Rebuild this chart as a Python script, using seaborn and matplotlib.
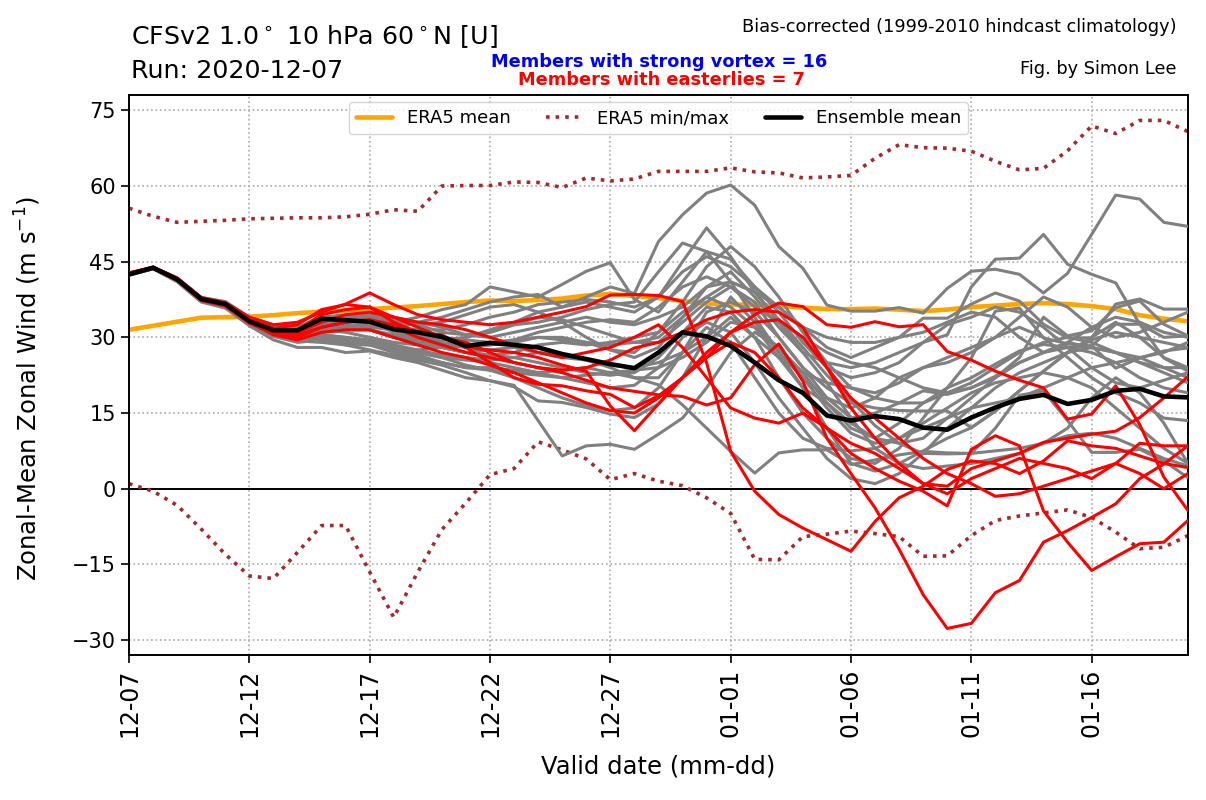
import numpy as np
import pandas as pd
import matplotlib
matplotlib.use("Agg")
import matplotlib.pyplot as plt
import matplotlib.dates as mdates
import seaborn as sns

# ---------------- data ----------------
start_date = "2020-12-07"
n_days = 45

era5_mean = [31.5, 32.3, 33.1, 33.9, 34.0, 34.1, 34.4, 34.8, 35.1, 35.3, 35.6, 35.9, 36.2, 36.6, 37.0,
             37.3, 37.2, 37.4, 37.7, 38.3, 38.6, 38.2, 37.8, 37.2, 36.7, 36.5, 36.5, 36.2, 35.9, 35.6,
             35.6, 35.7, 35.5, 35.2, 35.5, 36.0, 36.3, 36.6, 36.8, 36.6, 36.2, 35.6, 34.4, 33.7, 33.2]

era5_max = [55.6, 54.0, 52.8, 53.0, 53.2, 53.5, 53.6, 53.7, 53.7, 53.9, 54.4, 55.3, 55.0, 60.0, 60.1,
            60.1, 60.8, 60.7, 59.7, 61.6, 61.0, 61.4, 62.9, 62.9, 62.9, 63.6, 62.8, 62.6, 61.6, 61.8,
            62.1, 65.5, 68.2, 67.6, 67.5, 66.9, 64.9, 63.2, 63.5, 67.0, 71.9, 70.4, 73.0, 73.0, 70.8]

era5_min = [1.0, -0.5, -3.3, -8.0, -13.0, -17.3, -17.8, -12.6, -7.3, -7.3, -16.5, -25.5, -16.5, -8.1, -2.8,
            2.8, 4.0, 9.3, 7.7, 5.9, 1.8, 3.0, 1.5, 0.6, -1.8, -4.9, -14.0, -14.1, -9.5, -9.0,
            -8.4, -8.9, -9.5, -13.4, -13.3, -9.3, -6.3, -5.4, -4.8, -4.2, -5.7, -8.6, -11.9, -11.6, -9.3]

ens_mean = [42.5, 43.8, 41.5, 37.6, 36.6, 33.2, 31.4, 31.4, 33.7, 33.4, 33.1, 31.6, 31.0, 30.1, 28.3,
            28.9, 28.5, 28.0, 26.7, 25.7, 24.7, 23.9, 27.0, 31.0, 30.2, 28.3, 25.0, 21.5, 19.0, 14.5,
            13.5, 14.4, 13.8, 12.1, 11.7, 14.1, 16.1, 17.8, 18.6, 16.8, 17.6, 19.4, 19.8, 18.3, 18.1]

grey_members = [
    [42.3, 43.6, 41.2, 37.2, 36.0, 32.6, 30.6, 29.8, 31.0, 31.5, 32.0, 31.5, 33.0, 34.0, 35.5, 37.0, 38.0, 38.5, 36.0, 38.0, 40.0, 38.7,
     49.0, 54.3, 58.6, 60.2, 56.2, 48.0, 43.7, 36.4, 35.2, 35.2, 35.9, 34.8, 39.7, 43.1, 43.5, 42.5, 38.8, 42.7, 50.4, 58.2, 57.4, 52.8, 52.0],
    [42.6, 43.9, 41.6, 37.8, 36.9, 33.5, 31.2, 30.4, 32.5, 33.5, 33.0, 31.0, 30.0, 29.5, 30.0, 31.5, 33.0, 35.0, 36.0, 37.0, 36.0, 35.0,
     38.0, 45.0, 51.7, 46.0, 39.0, 33.5, 28.0, 22.5, 17.5, 12.5, 9.0, 7.0, 6.9, 7.0, 12.0, 18.5, 19.4, 13.5, 7.2, 7.2, 7.8, 5.5, 2.2],
    [42.4, 43.7, 41.4, 37.4, 36.2, 32.8, 30.2, 29.0, 29.5, 29.0, 28.5, 28.0, 27.5, 28.0, 30.0, 31.0, 32.5, 33.0, 34.0, 35.5, 36.5, 37.0,
     43.0, 48.7, 47.0, 41.0, 34.0, 27.0, 20.0, 12.0, 5.0, 3.5, 5.0, 7.5, 10.0, 12.1, 15.4, 19.4, 23.3, 27.0, 29.5, 31.0, 30.0, 29.0, 28.0],
    [42.7, 43.9, 41.7, 37.9, 37.0, 33.8, 31.8, 30.8, 32.0, 33.0, 34.0, 33.0, 34.0, 35.5, 36.5, 40.0, 39.0, 38.0, 40.5, 43.1, 44.8, 37.5,
     35.0, 41.0, 47.0, 45.5, 40.0, 35.0, 29.0, 24.0, 22.0, 23.0, 25.0, 29.0, 32.5, 34.0, 36.0, 35.0, 32.0, 28.0, 24.0, 21.0, 20.0, 21.5, 23.0],
    [42.5, 43.8, 41.5, 37.6, 36.5, 33.2, 31.6, 31.2, 33.0, 33.8, 34.2, 33.5, 32.5, 31.0, 30.5, 30.0, 31.0, 32.0, 33.0, 34.0, 33.0, 32.5,
     34.0, 36.0, 40.0, 43.0, 38.0, 32.0, 27.0, 25.0, 24.0, 25.0, 27.0, 29.0, 30.5, 40.0, 45.5, 45.7, 50.4, 44.5, 42.5, 40.8, 32.6, 25.9, 23.3],
    [42.4, 43.7, 41.4, 37.5, 36.4, 33.0, 31.0, 30.5, 32.0, 32.5, 32.5, 31.5, 30.5, 29.0, 28.5, 28.5, 29.0, 30.0, 29.5, 29.0, 28.5, 29.0,
     30.0, 34.0, 40.0, 41.0, 39.0, 36.0, 32.0, 28.0, 26.0, 28.0, 30.0, 33.8, 33.8, 36.6, 38.8, 37.2, 32.6, 29.9, 29.9, 36.6, 37.6, 35.6, 35.6],
    [42.5, 43.8, 41.3, 37.3, 36.2, 32.6, 30.4, 29.5, 30.5, 30.0, 29.5, 28.5, 27.5, 26.5, 26.0, 25.5, 26.0, 27.0, 26.5, 25.5, 24.5, 24.0,
     25.0, 27.0, 30.0, 34.0, 30.0, 22.0, 15.0, 10.0, 6.0, 5.0, 8.0, 14.0, 20.0, 25.9, 35.2, 35.8, 29.9, 28.7, 28.3, 23.9, 25.9, 27.3, 27.9],
    [42.6, 43.8, 41.6, 37.7, 36.8, 33.4, 31.6, 30.6, 31.5, 31.0, 30.0, 29.0, 28.5, 28.0, 27.0, 26.5, 27.0, 28.5, 29.0, 28.5, 29.0, 30.0,
     31.0, 35.0, 38.0, 36.0, 32.0, 26.0, 20.0, 17.0, 13.0, 10.0, 9.0, 10.0, 14.0, 18.0, 22.0, 26.0, 34.0, 30.3, 31.3, 35.9, 37.2, 32.6, 30.3],
    [42.4, 43.6, 41.3, 37.4, 36.5, 33.2, 31.2, 30.0, 30.0, 29.5, 29.0, 28.0, 27.0, 26.0, 24.5, 23.5, 23.0, 22.5, 22.0, 22.5, 23.0, 23.5,
     24.0, 26.0, 29.0, 33.0, 32.0, 28.0, 23.0, 17.0, 12.0, 10.0, 13.0, 17.0, 20.0, 22.0, 24.7, 27.3, 28.6, 28.0, 28.3, 32.6, 32.6, 30.0, 30.3],
    [42.6, 43.9, 41.5, 37.5, 36.4, 33.0, 31.5, 31.0, 32.0, 32.5, 31.5, 30.0, 29.0, 28.0, 27.0, 27.5, 28.0, 27.0, 26.0, 25.5, 24.0, 22.0,
     22.0, 27.0, 35.0, 37.0, 35.0, 30.0, 24.0, 18.0, 14.0, 15.0, 17.0, 19.4, 18.7, 20.0, 22.3, 25.0, 27.0, 29.0, 28.0, 27.0, 26.0, 24.0, 22.0],
    [42.5, 43.8, 41.6, 37.8, 36.9, 33.6, 31.9, 31.5, 33.0, 34.0, 34.5, 34.0, 33.0, 32.0, 30.5, 31.0, 32.5, 34.0, 33.5, 32.0, 30.5, 29.0,
     29.0, 33.0, 37.0, 40.0, 37.0, 30.0, 24.0, 20.0, 17.0, 16.0, 15.5, 15.4, 15.4, 12.1, 15.4, 19.4, 23.3, 27.0, 30.0, 33.0, 30.0, 26.0, 24.0],
    [42.3, 43.6, 41.0, 37.0, 35.8, 32.3, 29.5, 28.0, 28.0, 27.0, 27.3, 26.0, 25.0, 23.5, 22.0, 21.4, 20.5, 13.5, 6.5, 8.5, 8.8, 7.8,
     10.8, 14.0, 20.0, 27.0, 31.0, 28.0, 22.0, 16.0, 11.0, 9.0, 10.0, 12.0, 14.0, 16.0, 17.0, 18.0, 20.0, 22.0, 24.0, 25.0, 26.0, 27.0, 29.0],
    [42.5, 43.7, 41.4, 37.4, 36.3, 32.9, 30.8, 29.6, 29.5, 28.5, 27.5, 26.5, 25.5, 24.5, 23.0, 21.4, 20.2, 17.4, 17.1, 16.1, 14.8, 14.1,
     16.8, 22.0, 30.0, 38.0, 33.0, 27.0, 22.0, 18.0, 16.0, 18.0, 22.0, 24.0, 25.0, 27.0, 30.0, 32.0, 30.0, 26.0, 22.0, 19.0, 17.0, 14.0, 13.5],
    [42.7, 43.9, 41.7, 37.9, 37.1, 34.0, 32.5, 32.0, 34.0, 34.5, 34.0, 33.0, 32.5, 33.0, 34.5, 36.0, 36.5, 35.0, 33.0, 30.0, 27.5, 26.0,
     28.0, 34.0, 38.0, 41.0, 39.0, 33.0, 27.0, 21.0, 14.0, 8.0, 5.0, 4.0, 4.5, 5.0, 6.0, 7.0, 9.0, 12.0, 18.0, 22.0, 19.0, 13.0, 5.0],
    [42.4, 43.7, 41.5, 37.6, 36.6, 33.2, 31.0, 30.0, 30.5, 30.0, 29.0, 28.0, 27.0, 26.0, 25.5, 25.0, 24.0, 23.0, 22.0, 21.0, 20.0, 20.5,
     24.0, 30.0, 33.0, 31.0, 25.0, 18.0, 12.0, 6.0, 2.0, 1.0, 3.0, 7.0, 12.0, 16.0, 20.0, 23.0, 25.0, 27.0, 28.0, 27.0, 25.0, 24.0, 24.0],
    [42.6, 43.8, 41.4, 37.5, 36.5, 33.2, 31.3, 30.8, 31.5, 32.0, 32.5, 31.5, 30.5, 30.0, 29.5, 29.0, 29.5, 30.0, 30.0, 29.0, 27.5, 27.0,
     31.0, 37.0, 44.0, 48.0, 44.0, 38.0, 31.0, 25.0, 20.0, 19.0, 21.0, 24.0, 26.0, 28.0, 30.0, 34.0, 38.0, 36.0, 32.0, 30.0, 31.0, 33.0, 35.0],
    [42.5, 43.8, 41.5, 37.6, 36.4, 32.8, 30.6, 29.3, 29.0, 28.5, 28.5, 27.5, 26.5, 25.0, 24.0, 23.5, 22.0, 20.0, 18.0, 16.5, 15.5, 16.0,
     20.0, 27.0, 32.0, 29.0, 22.0, 15.0, 10.0, 8.0, 7.5, 8.0, 10.0, 13.0, 16.0, 19.0, 21.0, 22.0, 23.0, 22.0, 20.0, 16.0, 12.0, 8.0, 5.0],
    [42.5, 43.7, 41.4, 37.5, 36.4, 33.0, 30.8, 29.8, 30.0, 29.5, 28.5, 27.0, 26.0, 25.0, 24.0, 24.0, 23.5, 23.0, 23.5, 24.0, 23.0, 22.0,
     20.6, 16.6, 12.0, 7.4, 3.1, 7.1, 7.7, 7.7, 4.8, 5.7, 6.7, 7.4, 7.1, 7.0, 7.5, 8.0, 9.0, 10.5, 11.0, 10.0, 8.0, 6.0, 4.5],
    [42.4, 43.7, 41.6, 37.7, 36.8, 33.5, 31.5, 30.5, 31.0, 31.5, 31.5, 30.5, 29.5, 28.5, 28.0, 28.5, 29.5, 31.0, 32.0, 33.0, 33.5, 33.0,
     36.0, 40.0, 42.0, 40.0, 36.0, 33.0, 30.0, 27.0, 25.0, 24.0, 22.0, 20.0, 19.0, 20.0, 22.0, 25.0, 27.0, 28.0, 27.0, 25.0, 22.0, 20.0, 19.0],
    [42.6, 43.8, 41.5, 37.5, 36.6, 33.3, 31.4, 31.0, 32.0, 32.5, 31.5, 30.0, 29.0, 28.0, 27.0, 26.5, 26.0, 25.0, 24.0, 23.0, 22.5, 23.0,
     26.0, 31.0, 36.0, 35.0, 30.0, 26.0, 23.0, 21.0, 20.0, 18.0, 17.0, 17.0, 19.0, 21.0, 24.0, 27.0, 29.0, 30.0, 29.0, 27.0, 25.0, 23.0, 21.0],
    [42.5, 43.8, 41.4, 37.4, 36.3, 33.0, 31.3, 30.9, 32.5, 33.2, 33.0, 32.0, 31.5, 31.5, 32.5, 34.0, 35.0, 36.5, 37.0, 37.5, 37.0, 36.0,
     38.0, 43.0, 46.0, 44.0, 40.0, 36.0, 32.0, 30.0, 29.0, 29.0, 30.0, 31.0, 33.0, 35.0, 34.0, 30.0, 27.0, 29.0, 32.0, 34.0, 33.0, 31.0, 30.0],
]

red_members = [
    [42.8, 43.9, 41.8, 37.9, 36.8, 33.5, 31.8, 31.5, 34.5, 35.5, 36.0, 33.0, 31.0, 30.5, 28.0, 27.5, 27.0, 26.0, 24.5, 23.3, 16.4, 11.5,
     16.8, 22.0, 26.0, 31.0, 34.5, 36.8, 36.1, 32.5, 32.0, 33.1, 32.1, 32.5, 27.2, 25.5, 23.3, 21.5, 20.0, 13.8, 14.8, 20.4, 12.7, 2.3, -4.3],
    [42.4, 43.8, 41.6, 37.7, 36.9, 34.0, 32.5, 33.0, 35.0, 36.6, 38.8, 36.5, 34.5, 33.5, 33.0, 32.5, 33.0, 34.0, 35.0, 36.1, 38.4, 38.5,
     38.3, 37.1, 25.0, 7.4, -0.5, -5.1, -7.8, -10.1, -12.4, -6.5, -1.8, 0.5, 3.8, 5.5, 5.0, 3.0, 5.5, 9.5, 8.5, 8.0, 6.5, 5.0, 4.2],
    [42.6, 43.9, 41.7, 37.8, 36.7, 33.4, 31.5, 30.5, 32.0, 33.0, 33.5, 32.5, 31.0, 30.0, 29.0, 27.0, 25.0, 24.0, 23.0, 21.5, 20.0, 19.3,
     18.6, 18.3, 16.6, 18.0, 24.6, 28.7, 21.3, 10.0, 3.0, -3.8, -12.0, -21.0, -27.7, -26.7, -20.6, -18.2, -10.6, -8.3, -5.7, -3.0, 2.0, 4.9, 8.5],
    [42.5, 43.8, 41.5, 37.6, 36.5, 33.2, 31.2, 31.0, 33.0, 34.5, 35.0, 34.0, 33.0, 32.5, 31.5, 30.0, 28.5, 27.0, 26.0, 27.0, 28.0, 30.0,
     32.5, 28.0, 22.0, 16.0, 14.0, 13.0, 15.0, 12.0, 7.0, 4.0, 1.5, -0.5, -3.4, 7.8, 10.5, 8.5, -4.4, -10.6, -16.2, -13.5, -10.9, -10.6, -6.3],
    [42.7, 43.9, 41.6, 37.6, 36.6, 33.5, 31.8, 32.5, 35.5, 36.5, 36.0, 34.0, 32.0, 30.0, 28.0, 25.0, 22.0, 20.7, 20.4, 19.4, 18.7, 16.1,
     18.4, 22.0, 26.0, 29.0, 27.0, 22.0, 16.0, 12.0, 9.0, 7.0, 4.0, 1.0, 0.5, 4.0, 5.5, 7.0, 9.2, 10.0, 10.8, 11.4, 14.1, 18.0, 22.2],
    [42.4, 43.7, 41.3, 37.3, 36.2, 32.8, 30.8, 30.0, 32.0, 33.0, 33.5, 32.0, 30.0, 28.5, 27.0, 26.0, 25.0, 24.0, 23.5, 24.0, 25.5, 27.9,
     29.0, 31.0, 33.5, 35.0, 35.5, 35.0, 32.0, 24.0, 16.0, 10.0, 5.0, 1.0, -1.0, 2.0, 4.0, 6.0, 5.0, 4.0, 2.0, 5.0, 9.0, 8.5, 8.5],
    [42.5, 43.8, 41.5, 37.5, 36.5, 33.0, 30.5, 29.5, 31.0, 31.5, 31.5, 30.0, 28.5, 27.0, 26.0, 24.5, 23.0, 21.0, 19.0, 17.0, 15.5, 15.0,
     18.0, 22.0, 27.0, 31.0, 33.0, 33.5, 30.0, 24.0, 18.0, 14.0, 10.0, 6.0, 3.0, 1.0, -1.5, -1.0, 0.5, 2.0, 3.5, 5.0, 3.0, 0.0, 3.0],
]

n_strong = 16
n_easterly = 7
ytick_values = [-30, -15, 0, 15, 30, 45, 60, 75]

# ---------------- plot ----------------
dates = pd.date_range(start_date, periods=n_days, freq="D")

sns.set_style("ticks")
plt.rcParams["font.family"] = ["DejaVu Sans"]
plt.rcParams["text.color"] = "black"
plt.rcParams["axes.labelcolor"] = "black"
plt.rcParams["xtick.color"] = "black"
plt.rcParams["ytick.color"] = "black"

fig = plt.figure(figsize=(12.06, 8), dpi=100)
ax = fig.add_axes([0.107, 0.181, 0.878, 0.7])

# ERA5 climatology
sns.lineplot(x=dates, y=era5_mean, color="orange", lw=3.3, ax=ax, label="ERA5 mean", zorder=2)
sns.lineplot(x=dates, y=era5_max, color="brown", lw=2.6, ls=":", ax=ax, label="ERA5 min/max", zorder=2)
sns.lineplot(x=dates, y=era5_min, color="brown", lw=2.6, ls=":", ax=ax, zorder=2)

# ensemble members
for m in grey_members:
    sns.lineplot(x=dates, y=m, color="grey", lw=2.2, ax=ax, zorder=3)
for m in red_members:
    sns.lineplot(x=dates, y=m, color="red", lw=2.2, ax=ax, zorder=4)

sns.lineplot(x=dates, y=ens_mean, color="black", lw=3.3, ax=ax, label="Ensemble mean", zorder=5)

ax.axhline(0, color="black", lw=1.4, zorder=1)

ax.set_xlim(dates[0], dates[-1])
ax.set_ylim(-33, 78)
ax.set_yticks(ytick_values)
ax.set_xticks(dates[::5])
ax.xaxis.set_major_formatter(mdates.DateFormatter("%m-%d"))
ax.tick_params(axis="x", labelrotation=90, labelsize=17, length=6, width=1.2, colors="black")
ax.tick_params(axis="y", labelsize=15, length=6, width=1.2, colors="black")
ax.grid(True, ls=":", color="#aaaaaa", lw=1.2)
for s in ax.spines.values():
    s.set_linewidth(1.4)
    s.set_color("black")

ax.set_xlabel("Valid date (mm-dd)", fontsize=17.5, color="black", labelpad=13)
ax.set_ylabel("Zonal-Mean Zonal Wind (m s$^{-1}$)", fontsize=17.5, color="black")
ax.yaxis.set_label_coords(-0.081, 0.476)

leg = ax.legend(loc="upper center", ncol=3, fontsize=13, frameon=True, bbox_to_anchor=(0.5, 1.004))
for t in leg.get_texts():
    t.set_color("black")

fig.text(131 / 1206, 1 - 44 / 800, "CFSv2 1.0$^\\circ$ 10 hPa 60$^\\circ$N [U]", fontsize=18.3, ha="left", va="baseline")
fig.text(131 / 1206, 1 - 78 / 800, "Run: 2020-12-07", fontsize=18.3, ha="left", va="baseline")
fig.text(1177 / 1206, 1 - 32 / 800, "Bias-corrected (1999-2010 hindcast climatology)", fontsize=12.8, ha="right", va="baseline")
fig.text(1177 / 1206, 1 - 74 / 800, "Fig. by Simon Lee", fontsize=12.8, ha="right", va="baseline")
fig.text(659 / 1206, 1 - 67 / 800, f"Members with strong vortex = {n_strong}", fontsize=12.8,
         fontweight="bold", color="blue", ha="center", va="baseline")
fig.text(661 / 1206, 1 - 85 / 800, f"Members with easterlies = {n_easterly}", fontsize=12.8,
         fontweight="bold", color="red", ha="center", va="baseline")

fig.savefig("out.png", dpi=100)
